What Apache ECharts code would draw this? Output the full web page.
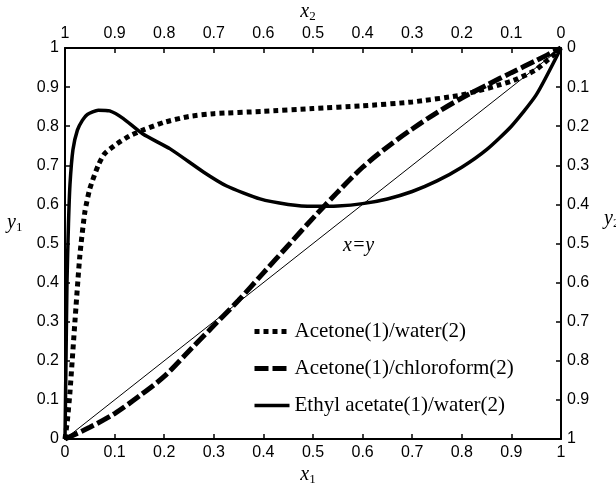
<!DOCTYPE html>
<html>
<head>
<meta charset="utf-8">
<script src="https://cdn.jsdelivr.net/npm/echarts@6/dist/echarts.min.js"></script>
<style>
  html, body { margin: 0; padding: 0; background: #fff; }
  #chart { width: 616px; height: 484px; }
</style>
</head>
<body>
<div id="chart"></div>
<script>
// x1 values and y1 values
const acetoneWaterX = [0, 0.005, 0.01, 0.02, 0.03, 0.04, 0.05, 0.067, 0.08, 0.105, 0.13, 0.157, 0.2, 0.25, 0.3, 0.4, 0.5, 0.6, 0.7, 0.8, 0.9, 0.95, 1];
const acetoneWaterY = [0, 0.05, 0.12, 0.3, 0.47, 0.58, 0.64, 0.7, 0.73, 0.755, 0.775, 0.79, 0.81, 0.825, 0.832, 0.838, 0.845, 0.852, 0.862, 0.88, 0.915, 0.945, 1];

const acetoneChloroX = [0, 0.05, 0.1, 0.15, 0.2, 0.25, 0.3, 0.35, 0.4, 0.45, 0.5, 0.55, 0.6, 0.65, 0.7, 0.75, 0.8, 0.85, 0.9, 0.95, 1];
const acetoneChloroY = [0, 0.03, 0.065, 0.11, 0.16, 0.225, 0.29, 0.355, 0.425, 0.495, 0.565, 0.632, 0.695, 0.747, 0.793, 0.835, 0.872, 0.905, 0.937, 0.968, 1];

const ethylWaterX = [0, 0.002, 0.004, 0.007, 0.01, 0.016, 0.025, 0.035, 0.045, 0.067, 0.09, 0.117, 0.157, 0.212, 0.279, 0.326, 0.393, 0.45, 0.5, 0.55, 0.6, 0.65, 0.7, 0.75, 0.8, 0.85, 0.9, 0.95, 1];
const ethylWaterY = [0, 0.2, 0.4, 0.55, 0.65, 0.74, 0.79, 0.815, 0.83, 0.841, 0.839, 0.82, 0.78, 0.742, 0.683, 0.647, 0.614, 0.6, 0.595, 0.596, 0.602, 0.614, 0.633, 0.66, 0.695, 0.74, 0.8, 0.88, 1];

const diagX = [0, 1];
const diagY = [0, 1];

const seriesNames = ['Acetone(1)/water(2)', 'Acetone(1)/chloroform(2)', 'Ethyl acetate(1)/water(2)'];

function pairs(xs, ys) {
  return xs.map((x, i) => [x, ys[i]]);
}

const chart = echarts.init(document.getElementById('chart'), null, { renderer: 'canvas' });

const tickFont = { color: '#000', fontFamily: 'Liberation Sans', fontSize: 16 };
const axisLine = { show: true, lineStyle: { color: '#000', width: 2 } };
const axisTick = { show: true, inside: true, length: 5, lineStyle: { color: '#000', width: 1.5 } };
const nameRich = {
  i: { fontFamily: 'Liberation Serif', fontStyle: 'italic', fontSize: 20, color: '#000' },
  s: { fontFamily: 'Liberation Serif', fontSize: 13, color: '#000', padding: [10, 0, 0, 0] }
};

function valueAxis(extra) {
  return Object.assign({
    type: 'value',
    min: 0,
    max: 1,
    interval: 0.1,
    splitLine: { show: false },
    axisLine: axisLine,
    axisTick: axisTick,
    axisLabel: Object.assign({ margin: 6, showMinLabel: true, showMaxLabel: true }, tickFont)
  }, extra);
}

const option = {
  animation: false,
  backgroundColor: '#fff',
  grid: { left: 65, right: 55, top: 48, bottom: 45, show: false },
  xAxis: [
    valueAxis({ position: 'bottom' }),
    valueAxis({ position: 'top', inverse: true })
  ],
  yAxis: [
    valueAxis({ position: 'left' }),
    valueAxis({ position: 'right', inverse: true })
  ],
  legend: {
    orient: 'vertical',
    left: 247,
    top: 316,
    itemWidth: 35,
    itemHeight: 14,
    itemGap: 16,
    data: seriesNames,
    itemStyle: { opacity: 0 },
    lineStyle: { width: 'inherit' },
    textStyle: { fontFamily: 'Liberation Serif', fontSize: 21, color: '#000' }
  },
  graphic: [
    { type: 'text', left: 'center', top: 465, style: { text: '{i|x}{s|1}', rich: nameRich } },
    { type: 'text', left: 'center', top: 2, style: { text: '{i|x}{s|2}', rich: nameRich } },
    { type: 'text', left: 7, top: 213, style: { text: '{i|y}{s|1}', rich: nameRich } },
    { type: 'text', left: 604, top: 209, style: { text: '{i|y}{s|2}', rich: nameRich } },
    { type: 'text', left: 343, top: 236, style: { text: 'x=y', fontFamily: 'Liberation Serif', fontStyle: 'italic', fontSize: 20, fill: '#000' } }
  ],
  series: [
    {
      name: seriesNames[0],
      type: 'line',
      data: pairs(acetoneWaterX, acetoneWaterY),
      symbol: 'none',
      smooth: 0.2,
      lineStyle: { color: '#000', width: 5, type: [5, 4] },
      itemStyle: { color: '#000' },
      z: 3
    },
    {
      name: seriesNames[1],
      type: 'line',
      data: pairs(acetoneChloroX, acetoneChloroY),
      symbol: 'none',
      smooth: 0.3,
      lineStyle: { color: '#000', width: 5, type: [14, 4] },
      itemStyle: { color: '#000' },
      z: 3
    },
    {
      name: seriesNames[2],
      type: 'line',
      data: pairs(ethylWaterX, ethylWaterY),
      symbol: 'none',
      smooth: 0.2,
      lineStyle: { color: '#000', width: 3.5 },
      itemStyle: { color: '#000' },
      z: 3
    },
    {
      name: 'x=y',
      type: 'line',
      data: pairs(diagX, diagY),
      symbol: 'none',
      lineStyle: { color: '#000', width: 1 },
      silent: true,
      z: 2
    }
  ]
};

chart.setOption(option);
</script>
</body>
</html>
